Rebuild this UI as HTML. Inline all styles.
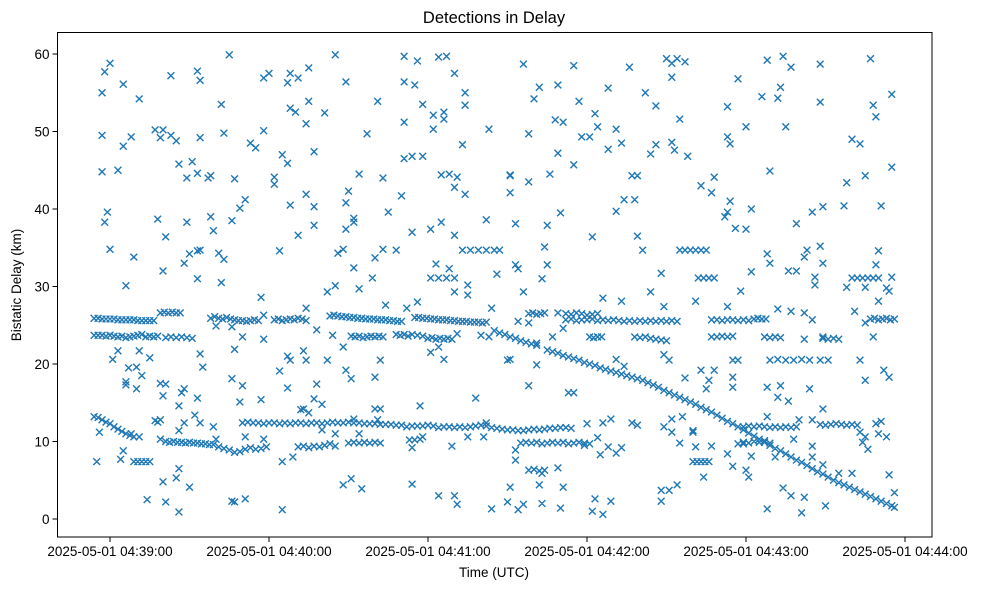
<!DOCTYPE html>
<html><head><meta charset="utf-8"><style>
body{margin:0;background:#fff;}
svg text{font-family:"Liberation Sans",sans-serif;fill:#000;}
</style></head><body>
<svg id="chart" width="986" height="590" viewBox="0 0 986 590" xmlns="http://www.w3.org/2000/svg">
<rect x="0" y="0" width="986" height="590" fill="#fff"/>
<text x="494" y="23" font-size="16.5" text-anchor="middle">Detections in Delay</text>
<g id="marks"></g>
<rect x="57.5" y="32.5" width="874.5" height="504.5" fill="none" stroke="#000" stroke-width="1"/>
<g id="xaxis"></g>
<g id="yaxis"></g>
<text x="494" y="577" font-size="13.5" text-anchor="middle">Time (UTC)</text>
<text transform="translate(21,285) rotate(-90)" font-size="13.5" text-anchor="middle">Bistatic Delay (km)</text>
</svg>
<script>
// time = seconds after 2025-05-01 04:38:00, delay in km
const xTickSeconds=[60,120,180,240,300,360];
const xTickLabels=["2025-05-01 04:39:00","2025-05-01 04:40:00","2025-05-01 04:41:00","2025-05-01 04:42:00","2025-05-01 04:43:00","2025-05-01 04:44:00"];
const yTicks=[0,10,20,30,40,50,60];

const upperBands=[[54,25.9],[55.5,25.9],[57,25.8],[58.5,25.8],[60,25.8],[61.5,25.8],[63,25.7],[64.5,25.7],[66,25.7],[67.5,25.7],[69,25.7],[70.5,25.6],[72,25.6],[73.5,25.6],[75,25.6],[76.5,25.6],
[54,23.7],[55.5,23.7],[57,23.7],[58.5,23.6],[60,23.7],[61.5,23.6],[63,23.5],[64.5,23.6],[66,23.4],[67.5,23.5],[69,23.6],[70.5,23.7],[72,23.8],[73.5,23.5],[75,23.6],[76.5,23.5],[78,23.6],[81,23.4],[83,23.5],[85,23.4],[87,23.5],[89,23.4],[91,23.3],
[79,26.6],[80.5,26.7],[82,26.6],[83.5,26.7],[85,26.6],[86.5,26.6],
[98,25.9],[99.5,26.1],[101,25.9],[102.5,25.8],[104,26.0],[105.5,25.8],[107,25.7],[108.5,25.6],[110,25.6],[111.5,25.5],[113,25.6],[114.5,25.7],[116,25.6],
[122,25.7],[123.5,25.8],[125,25.6],[126.5,25.7],[128,25.8],[129.5,25.7],[131,25.9],[132.5,25.8],[134,25.6],
[143,26.2],[144.5,26.3],[146,26.2],[147.5,26.1],[149,26.1],[150.5,26.0],[152,26.0],[153.5,25.9],[155,25.9],[156.5,25.8],[158,25.8],[159.5,25.8],[161,25.7],[162.5,25.7],[164,25.7],[165.5,25.6],[167,25.6],[168.5,25.5],[170,25.5],
[175,26.0],[176.5,26.0],[178,25.9],[179.5,25.9],[181,25.8],[182.5,25.8],[184,25.7],[185.5,25.7],[187,25.7],[188.5,25.6],[190,25.6],[191.5,25.5],[193,25.5],[194.5,25.5],[196,25.4],[197.5,25.4],[199,25.4],[200.5,25.3],[202,25.4],
[151,23.6],[152.5,23.5],[154,23.6],[155.5,23.4],[157,23.5],[158.5,23.6],[160,23.5],[161.5,23.6],[163,23.5],
[168,23.8],[169.5,23.7],[171,23.8],[172.5,23.6],[174,23.8],[176,23.7],[178,23.6],[180,23.3],[181.5,23.4],[183,23.2],[184.5,23.3],[186,23.2],[187.5,23.3],[189,23.2],
[218,26.5],[219.5,26.6],[221,26.4],[222.5,26.5],[224,26.6],[232,26.5],[234,26.4],[236,26.6],[238,26.5],[240,26.3],[242,26.4],[244,26.5],
[232,25.7],[234,25.8],[236,25.6],[238,25.7],[240,25.7],[242,25.8],[244,25.6],[246,25.7],[248,25.6],[250,25.7],[252,25.6],[254,25.5],[256,25.6],[258,25.5],[260,25.6],[262,25.5],[264,25.6],[266,25.5],[268,25.6],[270,25.5],[272,25.6],[274,25.5],
[287,25.7],[289,25.7],[291,25.6],[293,25.7],[295,25.7],[297,25.6],[299,25.7],[301,25.6],[303,25.8],[304.5,25.9],[306,25.8],[307.5,25.8],
[347,25.8],[348.5,25.9],[350,25.7],[351.5,25.8],[353,25.9],[354.5,25.7],[356,25.8],
[241,23.5],[242.5,23.4],[244,23.5],[245.5,23.5],[258,23.5],[260,23.4],[262,23.5],[264,23.3],[266,23.2],[268,23.1],[270,23.0],
[287,23.5],[289,23.5],[291,23.6],[293,23.5],[295,23.6],[307,23.5],[309,23.4],[311,23.5],[313,23.4],[329,23.3],[331,23.2],[333,23.3],[335,23.2]];

const descendingTrack=[[205,24.3],[207,24.0],[209,23.8],[211,23.5],[213,23.3],[215,23.0],[217,22.8],[219,22.6],[221,22.4],
[225,21.8],[227,21.6],[229,21.4],[231,21.1],[233,20.9],[235,20.7],[237,20.5],[239,20.2],[241,20.0],[243,19.8],[245,19.5],[247,19.3],[249,19.1],[251,18.9],[253,18.7],[255,18.5],[257,18.3],[259,18.1],[261,17.9],[263,17.6],[265,17.3],[267,17.0],[269,16.6],[271,16.3],[273,16.0],[275,15.7],[277,15.4],[279,15.1],[281,14.8],[283,14.4],[285,14.1],[287,13.8],[289,13.4],[291,13.0],[293,12.6],[295,12.3],[297,11.9],[299,11.5],[301,11.1],[303,10.7],[305,10.3],[307,9.9],[309,9.5],[311,9.1],[313,8.8],[315,8.4],[317,8.0],[319,7.6],[321,7.3],[323,6.9],[325,6.5],[327,6.1],[329,5.8],[331,5.4],[333,5.0],[335,4.7],[337,4.4],[339,4.1],[341,3.8],[343,3.5],[345,3.2],[347,2.9],[349,2.6],[351,2.3],[353,2.0],[355,1.7],[356,1.5]];

const lowerBands=[[110,12.4],[112,12.5],[114,12.4],[116,12.4],[118,12.3],[120,12.4],[122,12.4],[124,12.3],[126,12.4],[128,12.3],[130,12.4],[132,12.4],[134,12.3],[136,12.4],[138,12.4],[140,12.3],[142,12.4],[144,12.5],[146,12.4],[148,12.4],[150,12.5],[152,12.4],[154,12.4],[156,12.3],[158,12.3],[160,12.3],[162,12.2],[164,12.2],[166,12.2],[168,12.1],[170,12.1],[172,11.9],[174,12.0],[176,12.0],[178,12.0],[180,12.1],[182,12.0],[184,11.8],[186,11.9],[188,11.9],[190,11.8],[192,11.9],[194,11.8],[196,11.9],[198,12.0],[200,12.1],[202,12.0],[204,11.8],[206,11.7],[208,11.6],[210,11.5],[212,11.5],
[214,11.4],[216,11.4],[218,11.5],[220,11.6],[222,11.5],[224,11.6],[226,11.7],[228,11.7],[230,11.8],[232,11.8],[234,11.7],
[299,11.9],[301,12.0],[303,11.9],[305,12.0],[307,11.9],[309,11.8],[311,11.9],[313,11.8],[315,11.9],[317,11.8],[319,11.9],
[328,12.2],[330,12.1],[332,12.2],[334,12.3],[336,12.2],[338,12.1],[340,12.2],[342,12.1],
[54,13.2],[55.5,13.1],[57,12.8],[58.5,12.5],[60,12.3],[61.5,11.9],[63,11.6],[64.5,11.3],[66,11.0],[67.5,10.8],[69,10.6],[77,12.7],[78,12.5],[79,12.8],
[81,10.0],[82.5,9.9],[84,10.0],[85.5,9.9],[87,9.9],[88.5,9.8],[90,9.9],[91.5,9.8],[93,9.8],[94.5,9.7],[96,9.7],[97.5,9.6],[99,9.6],[101,9.3],[103,9.1],[105,8.9],[107,8.6],[109,8.7],[111,9.0],[113,9.2],[115,9.0],[117,9.1],[119,9.3],
[131,9.3],[133,9.4],[135,9.2],[137,9.4],[139,9.3],[141,9.5],[143,9.7],[145,9.4],
[150,9.8],[152,9.9],[154,9.8],[156,9.9],[158,9.8],[160,9.9],[162,9.8],
[215,9.8],[217,9.9],[219,9.8],[221,9.9],[223,9.7],[225,9.8],[227,9.9],[229,9.8],[231,9.9],[233,9.7],[235,9.8],[237,9.9],[239,9.8],[241,9.7],
[299,9.9],[301,9.8],[303,10.0],[305,9.9],[307,10.1],[309,9.8],
[69,7.4],[70.5,7.4],[72,7.4],[73.5,7.4],[75,7.4],[280,7.4],[281.5,7.4],[283,7.4],[284.5,7.4],[286,7.4],
[218,6.3],[220,6.4],[222,6.2],[224,6.3]];

const repeatedTracks=[[275,34.7],[277,34.7],[279,34.7],[281,34.7],[283,34.7],[285,34.7],[282,31.1],[284,31.1],[286,31.1],[288,31.1],
[340,31.1],[342,31.1],[344,31.1],[346,31.1],[348,31.1],[350,31.1],[193,34.7],[196,34.7],[199,34.7],[202,34.7],[205,34.7],[207,34.7],
[181,31.1],[184,31.1],[187,31.1],[190,31.1],[309,20.5],[312,20.6],[315,20.5],[318,20.5],[321,20.6],[324,20.5],[328,20.5],[331,20.5]];

const scatterDetections=[[60,58.8],[58,57.7],[57,55.0],[65,56.1],[71,54.2],[57,49.5],[65,48.1],[68,49.3],[57,44.8],[63,45.0],[59,39.6],[58,38.3],[60,34.8],[69,33.8],[66,30.1],[77,50.2],[80,50.2],[79,49.2],[83,49.5],[85,48.8],[83,57.2],[93,57.8],[94,56.6],[105,59.9],[102,53.5],[94,49.2],[103,49.8],[86,45.8],[91,46.1],[89,44.0],[93,44.6],[97,44.0],[98,44.3],[107,43.9],[78,38.7],[81,36.4],[89,38.3],[98,39.0],[99,37.2],[106,38.5],[109,40.1],[111,41.2],[80,32.0],[88,33.0],[90,34.2],[93,34.6],[94,34.7],[101,34.3],[103,33.5],[93,31.0],[102,30.5],[113,48.5],[115,47.9],[118,50.1],[118,56.9],[120,57.5],[127,56.3],[128,57.5],[131,56.9],[135,58.2],[145,59.9],[149,56.4],[128,53.0],[130,52.5],[135,53.9],[141,52.4],[134,51.0],[125,47.0],[127,45.9],[137,47.4],[122,44.1],[122,43.2],[134,41.9],[137,40.3],[128,40.5],[137,37.9],[131,36.6],[124,34.6],[149,40.8],[150,42.3],[152,38.8],[152,38.3],[149,37.4],[146,34.3],[148,34.8],[152,32.4],[154,44.5],[163,44.0],[157,49.7],[161,53.9],[170,41.7],[165,39.6],[160,33.7],[163,34.8],[168,34.7],[159,31.1],[171,59.7],[176,59.1],[171,56.4],[175,56.0],[184,59.6],[187,59.7],[190,57.5],[194,55.0],[194,53.4],[178,53.5],[182,52.1],[186,52.5],[186,51.6],[171,51.2],[182,50.3],[193,48.3],[203,50.3],[171,46.5],[174,46.8],[178,46.8],[185,44.4],[188,44.5],[191,44.1],[190,42.8],[194,41.9],[185,38.3],[181,37.4],[174,37.0],[190,36.6],[202,38.6],[206,31.6],[183,32.9],[188,32.3],[211,44.3],[211,42.1],
[216,58.7],[235,58.5],[256,58.3],[270,59.4],[272,58.8],[274,59.4],[277,59.0],[272,57.0],[308,59.2],[314,59.7],[317,58.3],[328,58.7],[347,59.4],[222,55.7],[229,56.0],[220,54.2],[237,53.9],[248,55.6],[262,55.0],[266,53.3],[297,56.8],[293,53.2],[306,54.5],[312,54.3],[313,55.7],[328,53.8],[348,53.4],[355,54.8],[349,51.9],[228,51.5],[231,51.2],[243,52.3],[244,50.6],[251,50.3],[238,49.3],[241,49.3],[253,48.5],[248,47.7],[218,49.7],[266,48.3],[264,47.1],[272,48.6],[273,47.6],[275,51.6],[278,46.8],[293,49.3],[294,48.4],[300,50.6],[315,50.6],[229,47.2],[235,45.7],[211,44.4],[218,43.5],[226,44.5],[211,42.1],[257,44.3],[259,44.3],[254,41.2],[258,41.2],[251,39.7],[230,39.5],[213,38.1],[225,37.9],[288,44.1],[283,43.0],[287,42.1],[309,44.9],[294,41.0],[293,39.6],[292,39.0],[302,40.0],[296,37.5],[300,37.4],[319,38.1],[325,39.6],[329,40.3],[337,40.4],[351,40.4],[338,43.4],[345,44.3],[355,45.4],[340,49.0],[343,48.4],[242,36.4],[259,36.5],[261,34.7],[224,35.1],[213,32.8],[214,32.3],[225,32.8],[223,31.0],[268,31.7],[302,31.9],[308,34.2],[309,33.0],[316,32.0],[319,32.0],[322,33.8],[323,34.7],[328,35.2],[329,33.0],[326,31.2],[349,32.8],[350,34.6],[355,31.2],[338,29.9],[353,29.8],
[66,30.1],[117,28.6],[142,29.3],[145,30.1],[154,29.7],[164,27.6],[176,28.0],[172,27.2],[204,27.2],[195,30.2],[195,28.9],[190,29.3],[63,21.7],[61,20.6],[71,21.7],[75,20.8],[67,19.5],[70,19.6],[72,18.5],[66,17.7],[66,17.3],[70,16.8],[79,17.5],[81,17.4],[80,15.9],[87,16.3],[88,16.8],[86,14.6],[93,15.6],[94,21.3],[95,19.6],[107,21.9],[106,18.1],[110,17.2],[109,15.1],[117,15.4],[124,19.1],[127,16.9],[127,21.0],[128,20.5],[133,21.7],[134,20.5],[138,17.4],[137,15.5],[140,14.8],[133,14.2],[135,13.7],[149,19.2],[151,18.1],[148,22.2],[142,20.5],[160,18.3],[162,20.5],[177,14.6],[160,14.2],[162,14.2],[181,21.5],[184,22.2],[186,20.6],[198,15.6],[210,20.5],[55,7.4],[64,7.7],[80,4.8],[86,6.5],[85,5.3],[90,4.1],[74,2.5],[81,2.2],[86,0.9],[106,2.3],[107,2.2],[111,2.6],[125,1.2],[125,7.4],[129,8.0],[148,4.4],[151,5.2],[155,3.9],[174,4.5],[184,3.0],[190,3.0],[191,1.9],[204,1.3],[210,2.2],[211,4.1],[189,9.4],[177,10.3],[195,10.6],[56,11.2],[68,11.0],[71,10.6],[65,8.8],[79,10.3],[86,11.4],[92,13.4],[88,12.4],[94,12.4],[99,11.9],[100,10.3],[111,10.6],[118,10.3],[118,26.3],[100,24.9],[106,24.8],[110,23.5],[118,23.2],[144,23.7],[138,24.4],[134,27.2],[191,23.9],[200,23.7],[203,23.5],[132,14.1],[140,11.5],[145,11.0],[154,11.0],[161,12.8],[152,12.9],[173,10.2],[174,9.2],[175,10.2],[178,10.6],[202,12.4],[201,10.6],
[216,29.3],[264,29.3],[298,29.4],[281,28.1],[354,29.4],[350,28.1],[326,30.2],[338,29.9],[345,29.9],[246,28.5],[253,28.1],[269,27.4],[293,27.4],[312,27.1],[317,26.8],[322,26.6],[341,26.8],[345,25.3],[325,25.7],[214,25.5],[218,25.3],[229,26.6],[231,24.6],[227,23.5],[329,23.5],[348,23.5],[322,23.2],[295,20.5],[343,20.5],[345,17.9],[354,18.3],[352,19.2],[277,18.2],[283,19.2],[288,19.2],[286,17.9],[285,16.8],[295,18.3],[295,17.0],[308,17.0],[313,17.2],[312,15.7],[316,15.2],[324,16.8],[329,14.2],[251,20.6],[254,19.7],[269,21.2],[271,20.5],[297,20.5],[218,17.2],[233,16.3],[235,16.3],[211,20.6],[221,19.9],[221,22.7],[276,13.2],[272,12.9],[269,11.9],[272,11.2],[280,11.2],[275,9.8],[281,9.3],[287,9.4],[293,8.4],[295,6.8],[300,6.3],[301,5.4],[284,5.4],[302,8.1],[257,12.4],[259,12.1],[249,12.9],[240,12.3],[246,12.4],[244,10.5],[248,9.3],[245,8.3],[251,8.5],[253,9.2],[239,9.5],[213,8.9],[213,7.6],[223,5.9],[229,6.6],[222,4.4],[211,4.1],[231,4.1],[210,2.2],[214,1.2],[216,1.9],[223,2.0],[230,1.4],[243,2.6],[242,1.0],[246,0.6],[249,2.3],[268,2.3],[268,3.7],[271,3.7],[274,4.4],[280,11.4],[308,1.3],[314,4.0],[317,3.0],[321,0.8],[322,2.8],[330,1.7],[335,5.9],[340,5.9],[354,5.7],[356,3.4],[325,9.4],[325,8.0],[329,7.0],[325,12.8],[320,12.8],[318,10.3],[343,11.2],[345,10.6],[344,9.9],[346,9.0],[350,11.0],[353,10.6],[349,12.3],[351,12.6],[308,13.2],[297,9.7],[299,9.7],[311,8.0]];

const PLOT={left:57.5,right:932,top:32.5,bottom:537};
function xScale(t){return 110+(t-60)*159/60;}
function yScale(v){return 519-v*7.75;}

const NS="http://www.w3.org/2000/svg";
const marks=document.getElementById('marks');
function drawSeries(arr,name){
  const g=document.createElementNS(NS,'g');
  
  
  let d='';
  for(const p of arr){
    const x=xScale(p[0]),y=yScale(p[1]),s=3.4;
    d+=`M${(x-s).toFixed(1)} ${(y-s).toFixed(1)}L${(x+s).toFixed(1)} ${(y+s).toFixed(1)}M${(x-s).toFixed(1)} ${(y+s).toFixed(1)}L${(x+s).toFixed(1)} ${(y-s).toFixed(1)}`;
  }
  const path=document.createElementNS(NS,'path');
  path.setAttribute('d',d);
  path.setAttribute('stroke','#1f77b4');
  path.setAttribute('stroke-width','1.4');
  path.setAttribute('fill','none');
  
  
  g.appendChild(path);
  marks.appendChild(g);
}
drawSeries(upperBands,'upper-band-detections');
drawSeries(lowerBands,'lower-band-detections');
drawSeries(repeatedTracks,'repeated-track-detections');
drawSeries(descendingTrack,'descending-track-detections');
drawSeries(scatterDetections,'scattered-detections');

const xa=document.getElementById('xaxis');
xTickSeconds.forEach((t,i)=>{
  const x=xScale(t);
  const ln=document.createElementNS(NS,'line');
  ln.setAttribute('x1',x);ln.setAttribute('x2',x);ln.setAttribute('y1',PLOT.bottom);ln.setAttribute('y2',PLOT.bottom+5);
  ln.setAttribute('stroke','#000');
  
  
  xa.appendChild(ln);
  const tx=document.createElementNS(NS,'text');
  tx.setAttribute('x',x);tx.setAttribute('y',556);tx.setAttribute('font-size','13.5');tx.setAttribute('text-anchor','middle');
  tx.textContent=xTickLabels[i];
  
  
  xa.appendChild(tx);
});
const ya=document.getElementById('yaxis');
yTicks.forEach(v=>{
  const y=yScale(v);
  const ln=document.createElementNS(NS,'line');
  ln.setAttribute('x1',PLOT.left-5);ln.setAttribute('x2',PLOT.left);ln.setAttribute('y1',y);ln.setAttribute('y2',y);
  ln.setAttribute('stroke','#000');
  
  
  ya.appendChild(ln);
  const tx=document.createElementNS(NS,'text');
  tx.setAttribute('x',PLOT.left-8);tx.setAttribute('y',y+5);tx.setAttribute('font-size','13.5');tx.setAttribute('text-anchor','end');
  tx.textContent=String(v);
  
  
  ya.appendChild(tx);
});
</script>
</body></html>
